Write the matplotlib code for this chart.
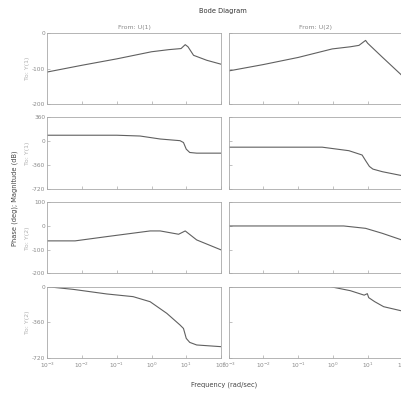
import matplotlib
matplotlib.use("Agg")
import matplotlib.pyplot as plt
import numpy as np

# ---- data (log10 frequency, value) ----
m11_x = [-3, -2, -1, -0.3, 0, 0.5, 0.85, 0.97, 1.05, 1.21, 1.59, 2]
m11_y = [-109, -90, -72, -58, -52, -46, -43, -32, -38, -62, -76, -87]

m12_x = [-3, -2, -1, -0.02, 0.5, 0.75, 0.94, 1.0, 1.42, 2]
m12_y = [-106, -88, -68, -44, -38, -34, -20, -28, -67, -120]

p11_x = [-3, -1, -0.33, 0.25, 0.82, 0.92, 1.0, 1.1, 1.3, 2]
p11_y = [90, 90, 78, 33, 8, -20, -120, -170, -180, -180]

p12_x = [-3, -1, -0.31, 0.46, 0.84, 0.95, 1.05, 1.15, 1.42, 2]
p12_y = [-90, -90, -90, -143, -208, -300, -380, -420, -459, -520]

m21_x = [-3, -2.2, -1.29, -0.04, 0.25, 0.78, 0.97, 1.3, 2]
m21_y = [-63, -63, -45, -21, -21, -35, -21, -59, -101]

m22_x = [-3, -1, 0.31, 0.94, 1.42, 2]
m22_y = [0, 0, 0, -10, -31, -60]

p21_x = [-3, -2.25, -1.29, -0.53, -0.04, 0.44, 0.82, 0.92, 1.0, 1.1, 1.3, 2]
p21_y = [0, -27, -73, -100, -151, -268, -385, -420, -520, -560, -586, -603]

p22_x = [-3, -1, -0.07, 0.5, 0.9, 0.99, 1.03, 1.2, 1.46, 2]
p22_y = [0, 0, 0, -40, -85, -70, -110, -150, -201, -245]

xticks = [1e-3, 1e-2, 1e-1, 1e0, 1e1, 1e2]
xticklabels = [r"$10^{-3}$", r"$10^{-2}$", r"$10^{-1}$", r"$10^{0}$", r"$10^{1}$", r"$10^{2}$"]

row_ylim = [(-200, 0), (-720, 360), (-200, 100), (-720, 0)]
row_yticks = [[-200, -100, 0], [-720, -360, 0, 360], [-200, -100, 0, 100], [-720, -360, 0]]
row_labels = ["To: Y(1)", "To: Y(1)", "To: Y(2)", "To: Y(2)"]
col_titles = ["From: U(1)", "From: U(2)"]

series = [[(m11_x, m11_y), (m12_x, m12_y)],
          [(p11_x, p11_y), (p12_x, p12_y)],
          [(m21_x, m21_y), (m22_x, m22_y)],
          [(p21_x, p21_y), (p22_x, p22_y)]]

# ---- figure ----
W, H = 401, 394
fig = plt.figure(figsize=(W / 100, H / 100), dpi=100)
fig.patch.set_facecolor("white")

col_left = [47.3, 228.7]
col_w = 173.7
row_top = [33.3, 117.3, 202.3, 286.7]
row_h = [71, 71.7, 71, 71.6]

spine_c = "#a8a8a8"
line_c = "#606060"
txt_c = "#8a8a8a"
fs = 4.2

for r in range(4):
    for c in range(2):
        ax = fig.add_axes([col_left[c] / W, 1 - (row_top[r] + row_h[r]) / H,
                           col_w / W, row_h[r] / H])
        xs, ys = series[r][c]
        ax.plot(10 ** np.array(xs), ys, color=line_c, lw=0.8)
        ax.set_xscale("log")
        ax.set_xlim(1e-3, 1e2)
        ax.set_ylim(*row_ylim[r])
        ax.set_yticks(row_yticks[r])
        ax.set_xticks(xticks)
        ax.minorticks_off()
        for s in ax.spines.values():
            s.set_color(spine_c)
            s.set_linewidth(0.6)
        ax.tick_params(direction="in", length=2, width=0.5, colors=spine_c,
                       labelcolor=txt_c, labelsize=fs, pad=1.5)
        if c == 0:
            ax.set_yticklabels([str(v) for v in row_yticks[r]])
        else:
            ax.set_yticklabels([])
        if r == 3:
            ax.set_xticklabels(xticklabels)
        else:
            ax.set_xticklabels([])
        if r == 0:
            ax.set_title(col_titles[c], fontsize=4.5, color=txt_c, pad=3)
    fig.text(28 / W, 1 - (row_top[r] + row_h[r] / 2) / H, row_labels[r],
             rotation=90, ha="center", va="center", fontsize=4.5, color="#b0b0b0")

fig.text(223 / W, 1 - 11 / H, "Bode Diagram", ha="center", va="center",
         fontsize=4.8, color="#333333")
fig.text(224 / W, 1 - 385 / H, "Frequency (rad/sec)", ha="center", va="center",
         fontsize=4.8, color="#444444")
fig.text(15 / W, 1 - 198 / H, "Phase (deg); Magnitude (dB)", rotation=90,
         ha="center", va="center", fontsize=4.8, color="#444444")

fig.savefig("out.png", dpi=100, facecolor="white")
